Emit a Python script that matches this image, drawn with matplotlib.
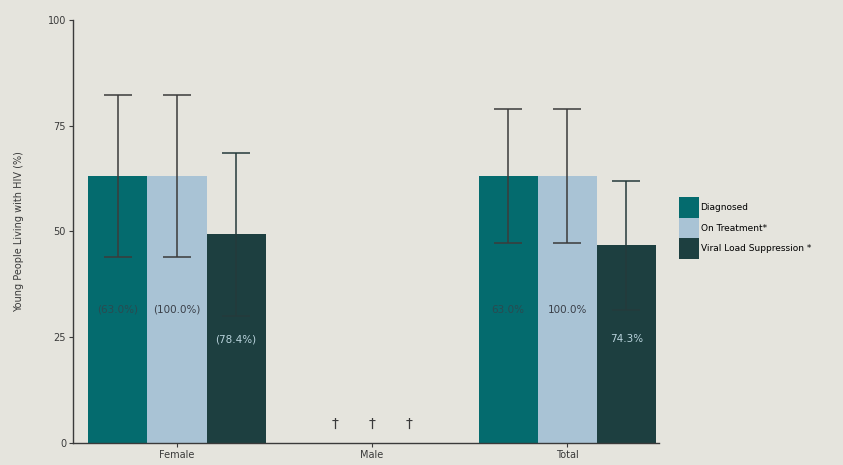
import matplotlib
matplotlib.use("Agg")
import matplotlib.pyplot as plt
from matplotlib.patches import Patch
import numpy as np

categories = ["Female", "Male", "Total"]
series = ["Diagnosed", "On Treatment*", "Viral Load Suppression *"]
diagnosed = [63.0, None, 63.0]
treatment = [63.0, None, 63.0]
viral = [49.3, None, 46.8]
diag_lo = [44.0, None, 47.3]
diag_hi = [82.3, None, 79.0]
treat_lo = [44.0, None, 47.3]
treat_hi = [82.3, None, 79.0]
viral_lo = [30.0, None, 31.5]
viral_hi = [68.6, None, 61.8]
bar_labels = [["(63.0%)", "(100.0%)", "(78.4%)"], None, ["63.0%", "100.0%", "74.3%"]]
yticks = [0, 25, 50, 75, 100]

bg = "#e5e4dd"
colors = ["#046b6e", "#a9c3d5", "#1d3f40"]
label_colors = ["#2a4a50", "#3a3f48", "#b9d3dc"]
label_y = [31.5, 31.5, 24.5]

fig = plt.figure(figsize=(8.43, 4.65), dpi=100, facecolor=bg)
ax = fig.add_axes([0.0866, 0.0473, 0.695, 0.910], facecolor=bg)

x = np.arange(len(categories))
w = 0.303
vals = [diagnosed, treatment, viral]
los = [diag_lo, treat_lo, viral_lo]
his = [diag_hi, treat_hi, viral_hi]
for si in range(3):
    for ci in range(len(categories)):
        v = vals[si][ci]
        xp = x[ci] + (si - 1) * w
        if v is None:
            ax.text(x[ci] + (si - 1) * 0.19, 4.5, "†", ha="center", va="center",
                    fontsize=10, color="#3a3a3a")
            continue
        ax.bar(xp, v, width=w, color=colors[si], zorder=2)
        lo, hi = los[si][ci], his[si][ci]
        ecol = "#243a3b" if si == 2 else "#3b3b3b"
        ax.errorbar(xp, (lo + hi) / 2, yerr=(hi - lo) / 2, fmt="none",
                    ecolor=ecol, elinewidth=1.1, capsize=10, capthick=1.1, zorder=3)
        ax.text(xp, label_y[si], bar_labels[ci][si], ha="center", va="center",
                fontsize=7.5, color=label_colors[si], zorder=4)

ax.set_xlim(-0.533, 2.47)
ax.set_ylim(0, 100)
ax.set_yticks(yticks)
ax.set_xticks(x)
ax.set_xticklabels(categories)
for s in ["top", "right"]:
    ax.spines[s].set_visible(False)
for s in ["left", "bottom"]:
    ax.spines[s].set_color("#3a3a3a")
    ax.spines[s].set_linewidth(1.0)
ax.tick_params(axis="both", labelsize=7, colors="#3a3a3a", length=3, pad=2)
ax.set_ylabel("Young People Living with HIV (%)", fontsize=7, color="#3a3a3a", labelpad=17)

handles = [Patch(facecolor=c) for c in colors]
fig.legend(handles, series, loc="upper left", bbox_to_anchor=(0.800, 0.585),
           frameon=False, fontsize=6.5, handlelength=2.2, handleheight=3.1,
           handletextpad=0.2, labelspacing=0.0, borderpad=0)

fig.savefig("out.png", dpi=100, facecolor=bg)
